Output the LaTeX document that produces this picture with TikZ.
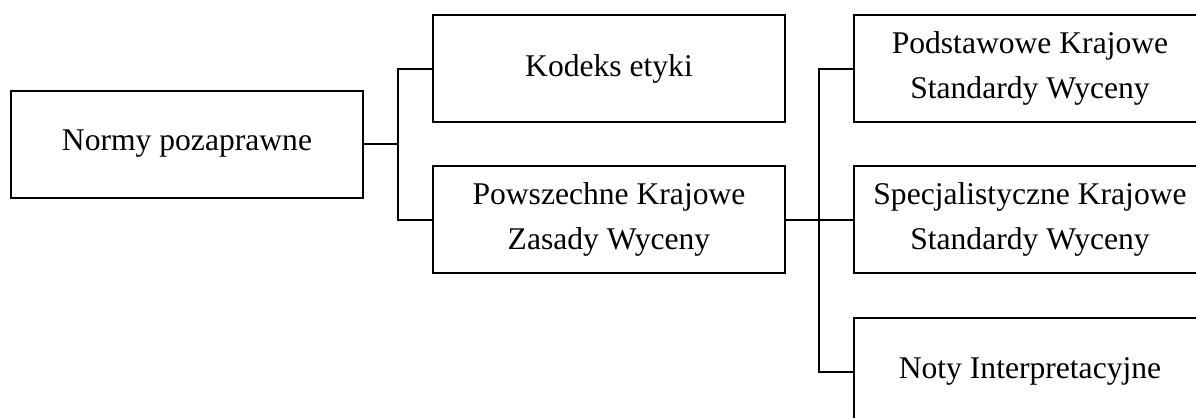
\documentclass[tikz,border=0pt]{standalone}
\usepackage{fontspec}
\setmainfont{Liberation Serif}
\begin{document}
\begin{tikzpicture}[x=0.5pt,y=-0.5pt,
  box/.style={draw,line width=1pt,minimum width=176pt,minimum height=53.5pt,
    inner sep=0pt,align=center,font=\fontsize{15.8}{22.5}\selectfont},
  link/.style={line width=1pt}]
  \useasboundingbox (0,0) rectangle (1196,418);
  \clip (0,0) rectangle (1196,418);
  % first level
  \node[box] (b1) at (187,144) {Normy pozaprawne};
  % second level
  \node[box] (b2) at (609,68.5) {Kodeks etyki};
  \node[box] (b3) at (609,219.5) {Powszechne Krajowe\\Zasady Wyceny};
  % third level
  \node[box] (b4) at (1030,68.5) {Podstawowe Krajowe\\Standardy Wyceny};
  \node[box] (b5) at (1030,219.5) {Specjalistyczne Krajowe\\Standardy Wyceny};
  \node[box] (b6) at (1030,371.5) {Noty Interpretacyjne};
  % connectors
  \coordinate (j1) at (398,144);
  \coordinate (j2) at (819,219.5);
  \draw[link] (b1.east) -- (j1);
  \draw[link] (b2.west) -| (j1) |- (b3.west);
  \draw[link] (b3.east) -- (j2) -- (b5.west);
  \draw[link] (b4.west) -| (j2) |- (b6.west);
\end{tikzpicture}
\end{document}
